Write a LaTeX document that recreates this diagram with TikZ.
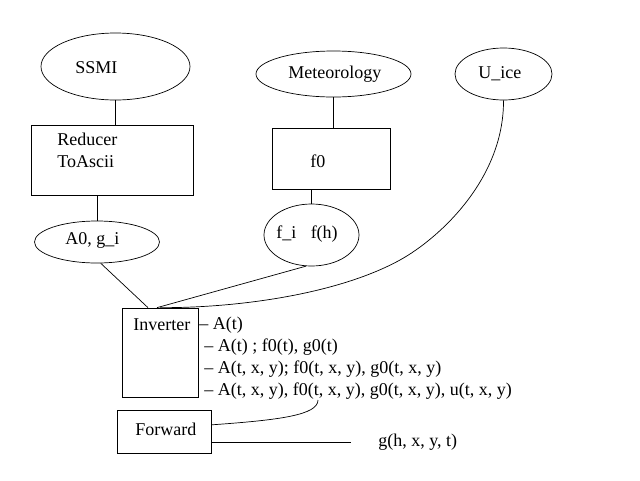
\documentclass[tikz,border=0pt]{standalone}
\usepackage{fontspec}
\setmainfont{Liberation Serif}
\usetikzlibrary{shapes.geometric}
\begin{document}
\begin{tikzpicture}[x=1pt,y=-1pt,
  line width=0.7pt,
  blob/.style={ellipse, draw, inner sep=0pt},
  panel/.style={rectangle, draw, inner sep=0pt},
  lbl/.style={anchor=base west, inner sep=0pt, font=\fontsize{18}{22}\selectfont}]
\useasboundingbox (0,0) rectangle (640,480);

% data sources
\node[blob, minimum width=149pt, minimum height=67pt] (ssmi) at (115.5,66.5) {};
\node[blob, minimum width=155pt, minimum height=46pt] (meteo) at (333.5,74) {};
\node[blob, minimum width=97pt, minimum height=52pt] (uice) at (503.5,74) {};
\node[lbl] (ssmi-t) at (75,73) {SSMI};
\node[lbl] (meteo-t) at (288,78) {Meteorology};
\node[lbl] (uice-t) at (478,78) {U\_ice};

% preprocessing
\node[panel, minimum width=162pt, minimum height=70pt] (reducer) at (112,160) {};
\node[lbl] (reducer-t1) at (57,145) {Reducer};
\node[lbl] (reducer-t2) at (57,167) {ToAscii};
\node[panel, minimum width=118pt, minimum height=61pt] (f0box) at (331,158.5) {};
\node[lbl] (f0-t) at (310,167) {f0};

% intermediate products
\node[blob, minimum width=125pt, minimum height=42pt] (a0) at (97,242) {};
\node[lbl] (a0-t) at (65,244) {A0, g\_i};
\node[blob, minimum width=95pt, minimum height=62pt] (fi) at (311.5,235) {};
\node[lbl] (fi-t) at (276,238) {f\_i\hspace{0.8em}f(h)};

% models
\node[panel, minimum width=76pt, minimum height=89pt] (inverter) at (160,352.5) {};
\node[lbl] (inverter-t) at (133,330) {Inverter};
\node[lbl] (out1) at (199,329) {– A(t)};
\node[lbl] (out2) at (204,351) {– A(t) ; f0(t), g0(t)};
\node[lbl] (out3) at (204,373) {– A(t, x, y); f0(t, x, y), g0(t, x, y)};
\node[lbl] (out4) at (204,395) {– A(t, x, y), f0(t, x, y), g0(t, x, y), u(t, x, y)};
\node[panel, minimum width=94pt, minimum height=43pt] (forward) at (164,431.5) {};
\node[lbl] (forward-t) at (135,435) {Forward};
\node[lbl] (gout) at (378,446) {g(h, x, y, t)};

\coordinate (bend) at (400,260);
\coordinate (fwd-in) at (318,400);

% connectors
\draw (ssmi.south) -- (ssmi.south |- reducer.north);
\draw (a0.north |- reducer.south) -- (a0.north);
\draw (meteo.south) -- (meteo.south |- f0box.north);
\draw (fi.north |- f0box.south) -- (fi.north);
\draw (a0.-80) -- ([xshift=-12pt]inverter.north);
\draw (fi.-100) -- ([xshift=-3pt]inverter.north);
\draw (uice.south) .. controls (504,180) and (438,239) .. (bend)
      .. controls (339,293.6) and (240,308) .. (inverter.north);
\draw (forward.8) .. controls (280,420) and (318,415) .. (fwd-in);
\draw (forward.-13) -- (forward.-13 -| gout.west) [shorten >=27pt];
\end{tikzpicture}
\end{document}
